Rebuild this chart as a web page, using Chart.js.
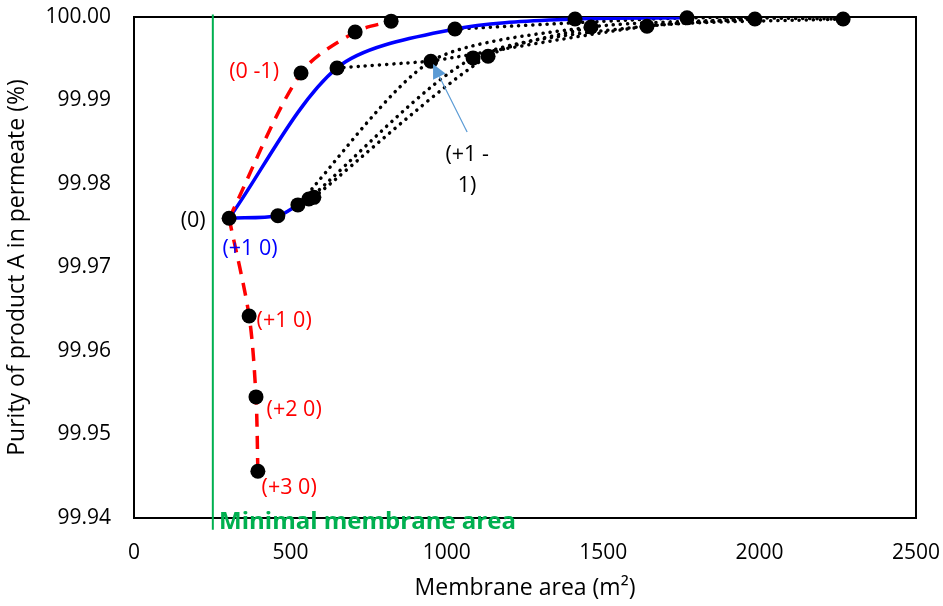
<!DOCTYPE html>
<html>
<head>
<meta charset="utf-8">
<script src="https://cdn.jsdelivr.net/npm/chart.js@4"></script>
<style>
  body { margin: 0; background: #fff; }
  #wrap { width: 943px; height: 606px; }
</style>
</head>
<body>
<div id="wrap"><canvas id="chart" width="943" height="606"></canvas></div>
<script>
// membrane area (m2) and purity (%) for each step of the search
const pointsX = [304, 460, 524, 559, 575, 649, 949, 1026, 1084, 1132, 1410, 1461, 1640, 1768, 1985, 2267, 534, 707, 822, 368, 390, 396];
const pointsY = [99.9759, 99.9762, 99.9775, 99.9782, 99.9784, 99.9939, 99.9947, 99.99856, 99.9951, 99.9953, 99.99976, 99.9988, 99.9989, 99.9999, 99.99976, 99.99976, 99.9933, 99.9982, 99.9995, 99.9642, 99.9545, 99.9456];

// red dashed paths: (0) -> (+3 0) and (0) -> (0 -1) -> ...
const redDownX = [304, 368, 390, 396];
const redDownY = [99.9759, 99.9642, 99.9545, 99.9456];
const redUpX = [304, 534, 707, 822];
const redUpY = [99.9759, 99.9933, 99.9982, 99.9995];

// blue solid paths
const blueAX = [304, 460, 524];
const blueAY = [99.9759, 99.9762, 99.9775];
const blueBX = [304, 649, 1026, 1410, 1768];
const blueBY = [99.9759, 99.9939, 99.99856, 99.99976, 99.9999];

// black dotted paths
const dottedPaths = [
  { x: [649, 949], y: [99.9939, 99.9947] },
  { x: [524, 949, 1461, 1985], y: [99.9775, 99.9947, 99.9988, 99.99976] },
  { x: [559, 1084, 1640, 2267], y: [99.9782, 99.9951, 99.9989, 99.99976] },
  { x: [575, 1132, 1461], y: [99.9784, 99.9953, 99.9988] },
  { x: [1026, 1768, 2267], y: [99.99856, 99.9999, 99.99976] },
  { x: [949, 1640, 1985], y: [99.9947, 99.9989, 99.99976] }
];

// minimal membrane area marker
const minAreaX = [252, 252];
const minAreaY = [99.9386, 100.0003];

const xTicks = [0, 500, 1000, 1500, 2000, 2500];
const yTicks = [99.94, 99.95, 99.96, 99.97, 99.98, 99.99, 100.00];

const labels = [
  { text: '(0 -1)', x: 384, y: 99.99341, color: '#ff0000' },
  { text: '(0)', x: 189, y: 99.97557, color: '#000000' },
  { text: '(+1 0)', x: 371, y: 99.97222, color: '#0000ff' },
  { text: '(+1 0)', x: 480, y: 99.96359, color: '#ff0000' },
  { text: '(+2 0)', x: 512, y: 99.95293, color: '#ff0000' },
  { text: '(+3 0)', x: 496, y: 99.94359, color: '#ff0000' },
  { text: '(+1 -', x: 1065, y: 99.98347, color: '#000000' },
  { text: '1)', x: 1065, y: 99.97976, color: '#000000' }
];
const arrow = { fromX: 1065, fromY: 99.98623, toX: 956, toY: 99.99437 };
const minAreaLabel = { text: 'Minimal membrane area', x: 272, y: 99.9395 };

const FONT = "'Open Sans', sans-serif";

function pairs(xs, ys) {
  return xs.map((x, i) => ({ x: x, y: ys[i] }));
}

function line(xs, ys, color, dash) {
  return {
    data: pairs(xs, ys),
    showLine: true,
    borderColor: color,
    borderWidth: 3.5,
    borderDash: dash,
    tension: 0.3,
    pointRadius: 0
  };
}

const datasets = [
  {
    data: pairs(pointsX, pointsY),
    showLine: false,
    pointRadius: 7.5,
    pointBackgroundColor: '#000',
    pointBorderWidth: 0,
    clip: false
  },
  {
    data: pairs(minAreaX, minAreaY),
    showLine: true,
    borderColor: '#00b050',
    borderWidth: 2,
    pointRadius: 0,
    clip: false
  },
  line(redDownX, redDownY, '#ff0000', [13, 9]),
  line(redUpX, redUpY, '#ff0000', [13, 9]),
  line(blueAX, blueAY, '#0000ff', []),
  line(blueBX, blueBY, '#0000ff', [])
];

dottedPaths.forEach(p => {
  const ds = line(p.x, p.y, '#000', [0.1, 7]);
  ds.borderCapStyle = 'round';
  ds.tension = 0.25;
  datasets.push(ds);
});

// frame, text labels and arrow
const extras = {
  id: 'extras',
  beforeDatasetsDraw(chart) {
    const { ctx, chartArea: a } = chart;
    ctx.save();
    ctx.strokeStyle = '#000';
    ctx.lineWidth = 2;
    ctx.strokeRect(a.left, a.top, a.right - a.left, a.bottom - a.top);
    ctx.restore();
  },
  afterDatasetsDraw(chart) {
    const { ctx, scales: { x, y } } = chart;
    ctx.save();
    ctx.font = '21.5px ' + FONT;
    ctx.textAlign = 'center';
    ctx.textBaseline = 'middle';
    labels.forEach(l => {
      ctx.fillStyle = l.color;
      ctx.fillText(l.text, x.getPixelForValue(l.x), y.getPixelForValue(l.y));
    });

    // arrow
    const x1 = x.getPixelForValue(arrow.fromX), y1 = y.getPixelForValue(arrow.fromY);
    const x2 = x.getPixelForValue(arrow.toX), y2 = y.getPixelForValue(arrow.toY);
    const ang = Math.atan2(y2 - y1, x2 - x1);
    const head = 14, hw = 7;
    ctx.strokeStyle = '#5b9bd5';
    ctx.fillStyle = '#5b9bd5';
    ctx.lineWidth = 1.2;
    ctx.beginPath();
    ctx.moveTo(x1, y1);
    ctx.lineTo(x2 - head * Math.cos(ang), y2 - head * Math.sin(ang));
    ctx.stroke();
    ctx.beginPath();
    ctx.moveTo(x2, y2);
    ctx.lineTo(x2 - head * Math.cos(ang) + hw * Math.sin(ang), y2 - head * Math.sin(ang) - hw * Math.cos(ang));
    ctx.lineTo(x2 - head * Math.cos(ang) - hw * Math.sin(ang), y2 - head * Math.sin(ang) + hw * Math.cos(ang));
    ctx.closePath();
    ctx.fill();

    ctx.font = 'bold 24px ' + FONT;
    ctx.textAlign = 'left';
    ctx.fillStyle = '#00b050';
    ctx.fillText(minAreaLabel.text, x.getPixelForValue(minAreaLabel.x), y.getPixelForValue(minAreaLabel.y));
    ctx.restore();
  }
};

new Chart(document.getElementById('chart'), {
  type: 'scatter',
  data: { datasets: datasets },
  plugins: [extras],
  options: {
    responsive: false,
    animation: false,
    layout: { padding: { top: 17, right: 27, left: 0, bottom: 0 } },
    plugins: { legend: { display: false }, tooltip: { enabled: false } },
    scales: {
      x: {
        type: 'linear',
        min: 0,
        max: 2500,
        afterBuildTicks: s => { s.ticks = xTicks.map(v => ({ value: v })); },
        afterFit: s => { s.height = 88; s.paddingLeft = 0; s.paddingRight = 0; },
        grid: { display: false },
        border: { display: false },
        ticks: { color: '#000', font: { family: FONT, size: 21 }, padding: 14, callback: v => String(v) },
        title: { display: true, text: 'Membrane area (m²)', color: '#000', font: { family: FONT, size: 23 }, padding: { top: 4 } }
      },
      y: {
        type: 'linear',
        min: 99.94,
        max: 100.00,
        afterBuildTicks: s => { s.ticks = yTicks.map(v => ({ value: v })); },
        afterFit: s => { s.width = 134; s.paddingTop = 0; s.paddingBottom = 0; },
        grid: { display: false },
        border: { display: false },
        ticks: { color: '#000', font: { family: FONT, size: 21 }, padding: 15, callback: v => v.toFixed(2) },
        title: { display: true, text: 'Purity of product A in permeate (%)', color: '#000', font: { family: FONT, size: 23 }, padding: { bottom: 0, top: 4 } }
      }
    }
  }
});
</script>
</body>
</html>
